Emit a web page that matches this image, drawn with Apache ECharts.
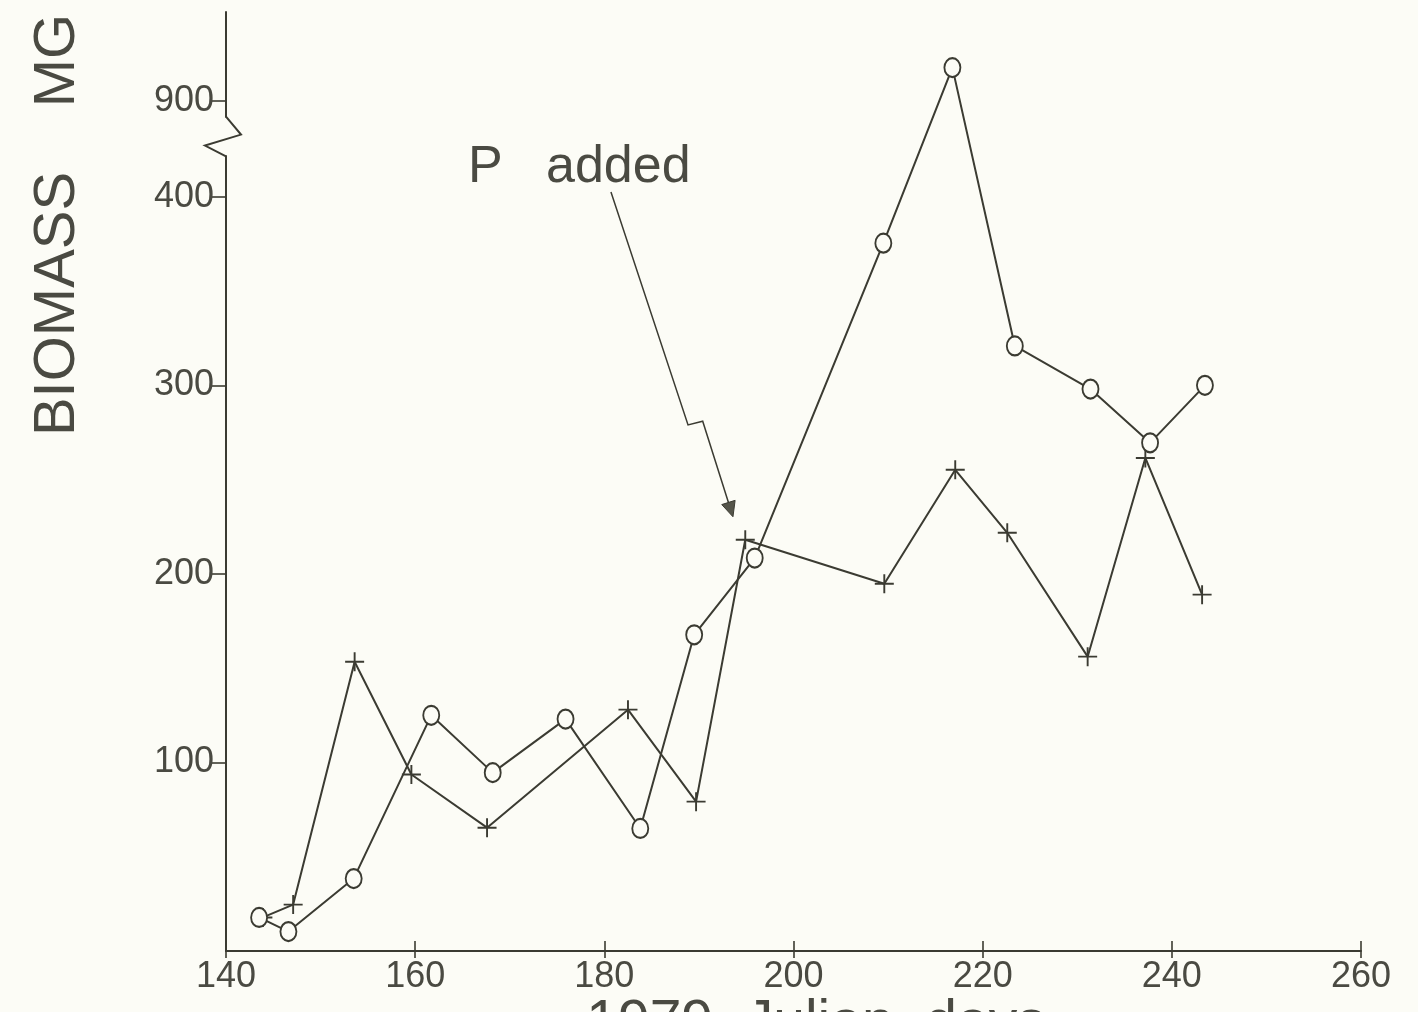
<!DOCTYPE html>
<html>
<head>
<meta charset="utf-8">
<script src="https://cdn.jsdelivr.net/npm/echarts@6/dist/echarts.min.js"></script>
<style>
  html, body { margin: 0; padding: 0; background: #fcfcf6; }
  #chart { width: 1418px; height: 1020px; }
</style>
</head>
<body>
<div id="chart"></div>
<script>
// ---- data ----
const circleDays    = [143.5, 146.6, 153.5, 161.7, 168.2, 175.9, 183.8, 189.5, 195.9, 209.5, 216.8, 223.4, 231.4, 237.7, 243.5];
const circleBiomass = [17.8, 10.3, 38.4, 125, 94.6, 123, 65, 167.7, 208.4, 375.4, 917.5, 320.9, 298, 269.5, 300];

const plusDays    = [143.9, 147.1, 153.6, 159.6, 167.6, 182.5, 189.7, 194.9, 209.6, 217.1, 222.6, 231.1, 237.2, 243.2];
const plusBiomass = [17.8, 24.6, 153.4, 93.6, 65.4, 128, 79.2, 218.1, 194.8, 255.2, 221.8, 156.1, 261.5, 189];

const xTickLabels = [140, 160, 180, 200, 220, 240, 260];
const yTickLabels = [100, 200, 300, 400, 900];

// axis break: values from 400 up to 900 are cut; 900 sits 51 units above 400
const BREAK_LOW = 400, BREAK_HIGH = 900, BREAK_GAP = 51;
const SHIFT = BREAK_HIGH - BREAK_LOW - BREAK_GAP;
function toAxis(v) { return v >= (BREAK_LOW + BREAK_HIGH) / 2 ? v - SHIFT : v; }
function fromAxis(v) { return v > BREAK_LOW + BREAK_GAP / 2 ? v + SHIFT : v; }

const INK = '#3b3b32';
const TEXT = '#4a4a42';
const BG = '#fcfcf6';
const FONT = '"Liberation Sans", Arial, sans-serif';

const circleSeries = circleDays.map((d, i) => [d, toAxis(circleBiomass[i])]);
const plusSeries = plusDays.map((d, i) => [d, toAxis(plusBiomass[i])]);
const yTickAxis = yTickLabels.map(toAxis);

const chart = echarts.init(document.getElementById('chart'), null, { renderer: 'canvas' });

chart.setOption({
  backgroundColor: BG,
  animation: false,
  grid: { left: 226, right: 57, top: 12, bottom: 69, containLabel: false, outerBoundsMode: 'none' },
  xAxis: [{
    type: 'value', min: 140, max: 260, interval: 20,
    axisLine: { show: true, lineStyle: { color: INK, width: 2 } },
    axisTick: { show: true, inside: true, length: 10, lineStyle: { color: INK, width: 1.6 } },
    axisLabel: { show: true, margin: 8, color: TEXT, fontSize: 36, fontFamily: FONT,
      customValues: xTickLabels },
    splitLine: { show: false }
  }, {
    type: 'value', min: 140, max: 260, interval: 20, position: 'bottom',
    axisLine: { show: false },
    axisTick: { show: true, inside: false, length: 7, lineStyle: { color: INK, width: 1.6 } },
    axisLabel: { show: false },
    splitLine: { show: false }
  }],
  yAxis: {
    type: 'value', min: 0, max: 498,
    axisLine: { show: true, lineStyle: { color: INK, width: 2 } },
    axisTick: { show: true, inside: false, length: 16, customValues: yTickAxis,
      lineStyle: { color: INK, width: 1.6 } },
    axisLabel: { show: true, margin: 12, color: TEXT, fontSize: 36, fontFamily: FONT,
      customValues: yTickAxis,
      formatter: v => String(Math.round(fromAxis(v))) },
    splitLine: { show: false }
  },
  series: [{
    type: 'line', name: 'o', data: circleSeries, z: 3,
    symbol: 'circle', symbolSize: [16, 19],
    lineStyle: { color: INK, width: 2 },
    itemStyle: { color: BG, borderColor: INK, borderWidth: 2 }
  }, {
    type: 'line', name: '+', data: plusSeries, z: 2,
    symbol: 'path://M9,0h2v20h-2z M0,9h20v2h-20z', symbolSize: 19,
    lineStyle: { color: INK, width: 2 },
    itemStyle: { color: INK, borderWidth: 0 }
  }]
});

// ---- annotations placed through the chart's coordinate system ----
function px(d, v) { return chart.convertToPixel({ gridIndex: 0 }, [d, v]); }

const breakTop = px(140, 442);
const breakBot = px(140, 422);
const ax = breakTop[0];

const arrowStart = px(180.7, 402.5);
const jag1 = px(188.85, 279);
const jag2 = px(190.4, 281);
const tip = px(193.6, 230.3);
const dx = tip[0] - jag2[0], dy = tip[1] - jag2[1];
const len = Math.sqrt(dx * dx + dy * dy);
const ux = dx / len, uy = dy / len;
const base = [tip[0] - ux * 15, tip[1] - uy * 15];
const head = [tip, [base[0] - uy * 7, base[1] + ux * 7], [base[0] + uy * 7, base[1] - ux * 7]];

chart.setOption({
  graphic: [
    // break in y axis
    { type: 'rect', shape: { x: ax - 3, y: breakTop[1], width: 6, height: breakBot[1] - breakTop[1] },
      style: { fill: BG }, z: 100 },
    { type: 'polyline', shape: { points: [[ax, breakTop[1] - 1], [ax + 15, breakTop[1] + 17], [ax - 21, breakTop[1] + 28], [ax, breakBot[1] + 1]] },
      style: { stroke: INK, lineWidth: 2, fill: null }, z: 101 },
    // y-axis title
    { type: 'text', x: 58, y: 225, rotation: Math.PI / 2, z: 50,
      style: { text: 'BIOMASS    MG', font: '58px ' + FONT, fill: TEXT, align: 'center', verticalAlign: 'middle' } },
    // x-axis title (cut at bottom of picture)
    { type: 'text', x: 816, y: 1024, z: 50,
      style: { text: '1979  Julian  days', font: '57px ' + FONT, fill: TEXT, align: 'center', verticalAlign: 'middle' } },
    { type: 'rect', shape: { x: 0, y: 1012, width: 1418, height: 8 }, style: { fill: '#ffffff' }, z: 60 },
    // "P added" annotation
    { type: 'text', x: 468, y: 168, z: 50,
      style: { text: 'P   added', font: '52px ' + FONT, fill: TEXT, align: 'left', verticalAlign: 'middle' } },
    { type: 'polyline', shape: { points: [arrowStart, jag1, jag2, base] },
      style: { stroke: INK, lineWidth: 1.5, fill: null }, z: 50 },
    { type: 'polygon', shape: { points: head }, style: { fill: '#55554a', stroke: INK, lineWidth: 1 }, z: 50 }
  ]
});
</script>
</body>
</html>
